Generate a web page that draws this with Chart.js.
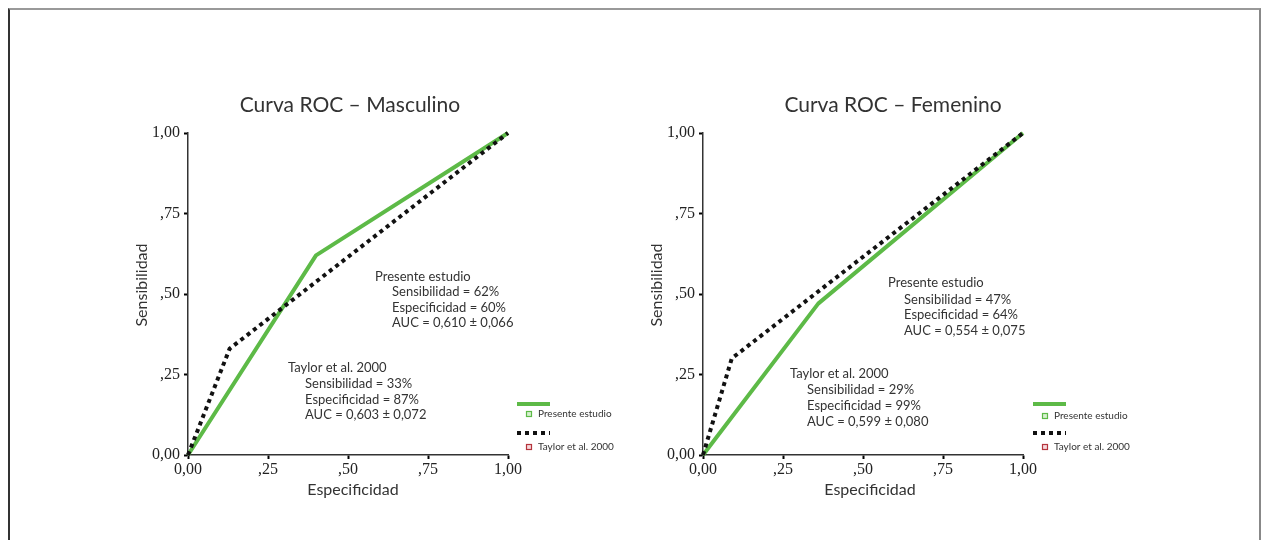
<!DOCTYPE html>
<html><head><meta charset="utf-8">
<script src="https://cdn.jsdelivr.net/npm/chart.js@4"></script>
<style>
html,body{margin:0;padding:0;background:#fff;}
body{width:1269px;height:540px;position:relative;overflow:hidden;}
#frame{position:absolute;left:8px;top:8px;width:1253px;height:600px;border-left:2px solid #333;border-top:2px solid #999;border-right:2px solid #888;box-sizing:border-box;}
canvas{position:absolute;top:0;}
</style></head><body>
<div id="frame"></div>
<canvas id="m" width="634" height="540" style="left:0"></canvas>
<canvas id="f" width="635" height="540" style="left:634px"></canvas>
<script>
// ---- data ----
const tickValues = [0, 0.25, 0.5, 0.75, 1];
const tickLabels = ['0,00', ',25', ',50', ',75', '1,00'];
const seriesNames = ['Presente estudio', 'Taylor et al. 2000'];
const chartTitles = ['Curva ROC \u2013 Masculino', 'Curva ROC \u2013 Femenino'];
const xTitle = 'Especificidad';
const yTitle = 'Sensibilidad';

const mascPresenteX = [0, 0.40, 1];
const mascPresenteY = [0, 0.62, 1];
const mascTaylorX = [0, 0.13, 1];
const mascTaylorY = [0, 0.33, 1];

const femPresenteX = [0, 0.36, 1];
const femPresenteY = [0, 0.47, 1];
const femTaylorX = [0, 0.09, 1];
const femTaylorY = [0, 0.30, 1];

const mascPresenteText = ['Presente estudio', 'Sensibilidad = 62%', 'Especificidad = 60%', 'AUC = 0,610 \u00b1 0,066'];
const mascTaylorText = ['Taylor et al. 2000', 'Sensibilidad = 33%', 'Especificidad = 87%', 'AUC = 0,603 \u00b1 0,072'];
const femPresenteText = ['Presente estudio', 'Sensibilidad = 47%', 'Especificidad = 64%', 'AUC = 0,554 \u00b1 0,075'];
const femTaylorText = ['Taylor et al. 2000', 'Sensibilidad = 29%', 'Especificidad = 99%', 'AUC = 0,599 \u00b1 0,080'];

// ---- helpers ----
const GREEN = '#5dba47';
const BLACK = '#111';
const TEXT = '#333';
const SANS = 'Lato, "Open Sans", sans-serif';
const SERIF = '"Liberation Serif", "DejaVu Serif", serif';

function pts(xs, ys) { return xs.map((x, i) => ({x: x, y: ys[i]})); }

function drawBlock(ctx, lines, x0, x1, ys) {
  ctx.font = '13px ' + SANS;
  ctx.fillStyle = TEXT;
  ctx.textAlign = 'left';
  ctx.textBaseline = 'middle';
  lines.forEach((t, i) => ctx.fillText(t, i === 0 ? x0 : x1, ys[i]));
}

function marker(ctx, cx, cy, stroke, fill) {
  ctx.fillStyle = fill;
  ctx.fillRect(cx - 2.5, cy - 2.5, 5, 5);
  ctx.strokeStyle = stroke;
  ctx.lineWidth = 1.2;
  ctx.strokeRect(cx - 2.5, cy - 2.5, 5, 5);
}

function makeChart(id, presX, presY, tayX, tayY, cfg) {
  const textPlugin = {
    id: 'texts',
    afterDraw(chart) {
      const ctx = chart.ctx;
      const o = cfg.offset;
      ctx.save();
      // title
      ctx.font = '21px ' + SANS;
      ctx.fillStyle = TEXT;
      ctx.textAlign = 'center';
      ctx.textBaseline = 'middle';
      ctx.fillText(cfg.title, cfg.titleX - o, 105);
      // axis titles
      ctx.font = '16px ' + SANS;
      ctx.fillText(xTitle, cfg.xTitleX - o, 490);
      ctx.save();
      ctx.translate(cfg.yTitleX - o, 285);
      ctx.rotate(-Math.PI / 2);
      ctx.fillText(yTitle, 0, 0);
      ctx.restore();
      // annotation blocks
      drawBlock(ctx, cfg.presText, cfg.presX0 - o, cfg.presX1 - o, cfg.presYs);
      drawBlock(ctx, cfg.tayText, cfg.tayX0 - o, cfg.tayX1 - o, cfg.tayYs);
      // legend
      const ds = chart.data.datasets;
      const lx = cfg.legX - o;
      ctx.lineCap = 'butt';
      ctx.strokeStyle = ds[1].borderColor;
      ctx.lineWidth = 4;
      ctx.setLineDash([]);
      ctx.beginPath(); ctx.moveTo(lx, 404); ctx.lineTo(lx + 33, 404); ctx.stroke();
      ctx.strokeStyle = ds[0].borderColor;
      ctx.setLineDash([4, 4]);
      ctx.beginPath(); ctx.moveTo(lx, 433); ctx.lineTo(lx + 33, 433); ctx.stroke();
      ctx.setLineDash([]);
      marker(ctx, lx + 12, cfg.legY1, '#5dba47', '#d8f0d0');
      marker(ctx, lx + 12, 447, '#b5343c', '#f6d8dc');
      ctx.font = '10px ' + SANS;
      ctx.fillStyle = TEXT;
      ctx.textAlign = 'left';
      ctx.textBaseline = 'middle';
      ctx.fillText(ds[1].label, lx + 21, cfg.legY1);
      ctx.fillText(ds[0].label, lx + 21, 447);
      ctx.restore();
    }
  };

  const axisCommon = {
    type: 'linear',
    min: 0, max: 1,
    offset: false,
    afterBuildTicks: s => { s.ticks = tickValues.map(v => ({value: v})); },
    ticks: {
      callback: (v, i) => tickLabels[i],
      font: {family: SERIF, size: 16},
      color: '#222',
      autoSkip: false,
      maxRotation: 0
    },
    grid: {display: true, drawOnChartArea: false, drawTicks: true, tickLength: 4, tickWidth: 2, tickColor: '#000'},
    border: {display: true, color: '#333', width: 1.5}
  };

  return new Chart(document.getElementById(id), {
    type: 'scatter',
    data: {
      datasets: [
        {label: seriesNames[1], data: pts(tayX, tayY), showLine: true, borderColor: BLACK, borderWidth: 4,
         borderDash: [4, 4], borderCapStyle: 'butt', pointRadius: 0, fill: false, clip: false, order: 0},
        {label: seriesNames[0], data: pts(presX, presY), showLine: true, borderColor: GREEN, borderWidth: 4,
         pointRadius: 0, fill: false, clip: false, order: 1, borderJoinStyle: 'round'}
      ]
    },
    options: {
      responsive: false,
      animation: false,
      devicePixelRatio: 1,
      layout: {padding: cfg.padding},
      plugins: {legend: {display: false}, title: {display: false}, tooltip: {enabled: false}},
      scales: {
        x: Object.assign({}, axisCommon, {position: 'bottom',
          ticks: Object.assign({}, axisCommon.ticks, {padding: 1}),
          afterFit: s => { s.height = 30; }}),
        y: Object.assign({}, axisCommon, {position: 'left',
          ticks: Object.assign({}, axisCommon.ticks, {padding: 4}),
          afterFit: s => { s.width = 40; }})
      }
    },
    plugins: [textPlugin]
  });
}

// plot area (absolute): left chart x 188-508, right chart x 703-1023, y 133-455
makeChart('m', mascPresenteX, mascPresenteY, mascTaylorX, mascTaylorY, {
  offset: 0,
  padding: {left: 148, top: 133, right: 634 - 508, bottom: 540 - 455 - 30},
  title: chartTitles[0], titleX: 350, xTitleX: 353, yTitleX: 142,
  presText: mascPresenteText, presX0: 375, presX1: 392, presYs: [277, 292, 308, 323],
  tayText: mascTaylorText, tayX0: 288, tayX1: 305, tayYs: [368, 384, 400, 415],
  legX: 517, legY1: 414
});
makeChart('f', femPresenteX, femPresenteY, femTaylorX, femTaylorY, {
  offset: 634,
  padding: {left: 703 - 634 - 40, top: 133, right: 634 + 635 - 1023, bottom: 540 - 455 - 30},
  title: chartTitles[1], titleX: 893, xTitleX: 870, yTitleX: 657,
  presText: femPresenteText, presX0: 888, presX1: 904, presYs: [283, 300, 315, 331],
  tayText: femTaylorText, tayX0: 790, tayX1: 807, tayYs: [374, 390, 406, 422],
  legX: 1033, legY1: 416
});
</script>
</body></html>
